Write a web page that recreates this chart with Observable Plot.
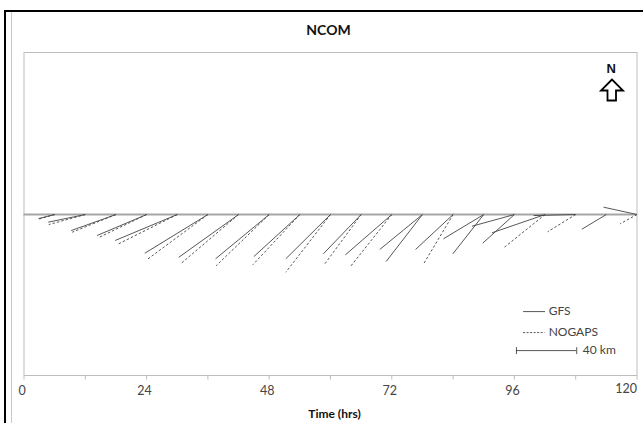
<!DOCTYPE html>
<html><head><meta charset="utf-8">
<script src="https://cdn.jsdelivr.net/npm/d3@7"></script>
<script src="https://cdn.jsdelivr.net/npm/@observablehq/plot@0.6"></script>
<style>
html,body{margin:0;padding:0;background:#fff;overflow:hidden}
#wrap{position:relative;width:643px;height:423px}
.b{position:absolute}
</style></head><body>
<div id="wrap">
<div class="b" style="left:4px;top:10px;width:639px;height:2px;background:#000"></div>
<div class="b" style="left:4px;top:10px;width:2px;height:413px;background:#000"></div>
<div class="b" style="left:11px;top:12px;width:1px;height:411px;background:#c8c8c8"></div>
</div>
<script>
const title = "NCOM";
const xLabel = "Time (hrs)";
const tickHours = [0, 24, 48, 72, 96, 120];
const minorTicks = [0, 12, 24, 36, 48, 60, 72, 84, 96, 108, 120];

// start hour of each vector, tip position along the time axis (hours) and north offset (km)
const gfsStart = [6,12,18,24,30,36,42,48,54,60,66,72,78,78,84,90,90,96,96,102,108,114,120];
const gfsTipX  = [2.84,4.74,9.24,14.3,17.85,23.65,30.3,37.5,45,51.25,58.6,62.9,69.65,70.9,76.65,82.1,83.95,87.7,89.8,91.6,99.75,109.2,113.45];
const gfsTipY  = [-2.7,-5.1,-10.7,-14,-17.3,-25.8,-28.5,-29.5,-28,-29.5,-26.2,-26.9,-23.3,-31.3,-23.3,-16.2,-26.2,-7.8,-19.1,-12.2,-0.7,-9.8,4.9];

const nogapsStart = [6,12,18,24,30,36,42,48,54,60,66,72,84,102,108,120];
const nogapsTipX  = [2.84,4.85,9.44,14.65,18.25,24.1,30.65,37.6,44.8,51.25,58.8,63.9,78.15,94.05,102.5,116.7];
const nogapsTipY  = [-3.1,-6.7,-11.8,-15.3,-20,-30,-32.9,-34.2,-33.5,-38.5,-33.3,-34.7,-33.3,-21.8,-11.5,-6.2];

const gfs = gfsStart.map((s,i)=>({s, x:gfsTipX[i], y:gfsTipY[i]}));
const nogaps = nogapsStart.map((s,i)=>({s, x:nogapsTipX[i], y:nogapsTipY[i]}));

const font = "Lato, 'Open Sans', sans-serif";
const ink = "#444";

const chart = Plot.plot({
  width: 643, height: 423,
  marginLeft: 23.5, marginRight: 6.5, marginTop: 52, marginBottom: 48,
  style: {background: "transparent", fontFamily: font, position: "absolute", left: 0, top: 0},
  x: {domain: [0, 120], axis: null},
  y: {domain: [-107.3, 108], axis: null},
  marks: [
    Plot.frame({stroke: "#bdbdbd", strokeWidth: 1}),
    Plot.ruleY([0], {stroke: "#a6a6a6", strokeWidth: 2}),
    Plot.link(minorTicks, {x1: d => d, x2: d => d, y1: () => -107.3, y2: () => -110, stroke: "#bdbdbd", clip: false}),
    Plot.link(gfs, {x1: "s", y1: () => 0, x2: "x", y2: "y", stroke: ink, strokeWidth: 0.9}),
    Plot.link(nogaps, {x1: "s", y1: () => 0, x2: "x", y2: "y", stroke: ink, strokeWidth: 0.9, strokeDasharray: "2.5,2"}),
    Plot.text(tickHours.slice(0, 5), {x: d => d, frameAnchor: "bottom", dy: 19, dx: -2, text: d => String(d), fontSize: 12.5, fill: ink}),
    Plot.text(tickHours.slice(5), {x: d => d, frameAnchor: "bottom", dy: 17, textAnchor: "end", text: d => String(d), fontSize: 12.5, fill: ink}),
    Plot.text([title], {frameAnchor: "top", dy: -27, dx: -2, text: d => d, fontWeight: "bold", fontSize: 14, fill: "#111"}),
    Plot.text([xLabel], {frameAnchor: "bottom", dy: 42, dx: 4, text: d => d, fontWeight: "bold", fontSize: 12, fill: "#111"}),
    Plot.text(["N"], {frameAnchor: "top-right", dx: -21, dy: 11, text: d => d, fontWeight: "bold", fontSize: 13, fontFamily: "Liberation Sans", fill: "#111"}),
    // legend
    Plot.ruleY([-64.7], {x1: 97.8, x2: 102.1, stroke: ink, strokeWidth: 0.9}),
    Plot.ruleY([-78.7], {x1: 97.8, x2: 102, stroke: ink, strokeWidth: 0.9, strokeDasharray: "2,1.5"}),
    Plot.text(["GFS"], {x: () => 102.7, y: () => -64.7, textAnchor: "start", text: d => d, fontSize: 12, fill: ink}),
    Plot.text(["NOGAPS"], {x: () => 102.7, y: () => -78.7, textAnchor: "start", text: d => d, fontSize: 12, fill: ink}),
    Plot.ruleY([-90.7], {x1: 96.4, x2: 108.2, stroke: ink, strokeWidth: 0.9}),
    Plot.link([96.4, 108.2], {x1: d => d, x2: d => d, y1: () => -88.4, y2: () => -93, stroke: ink, strokeWidth: 0.9}),
    Plot.text(["40 km"], {x: () => 109.4, y: () => -90.7, textAnchor: "start", text: d => d, fontSize: 12, fill: ink})
  ]
});
const wrap = document.getElementById("wrap");
wrap.appendChild(chart);

// north arrow symbol
const NS = "http://www.w3.org/2000/svg";
const a = document.createElementNS(NS, "svg");
a.setAttribute("width", 30); a.setAttribute("height", 30);
a.setAttribute("style", "position:absolute;left:597px;top:76px");
const p = document.createElementNS(NS, "path");
p.setAttribute("d", "M15 3.5 L4 14.5 L10.5 14.5 L10.5 24.5 L19 24.5 L19 14.5 L26 14.5 Z");
p.setAttribute("fill", "#fff"); p.setAttribute("stroke", "#000"); p.setAttribute("stroke-width", "1.8");
a.appendChild(p);
wrap.appendChild(a);
</script>
</body></html>
